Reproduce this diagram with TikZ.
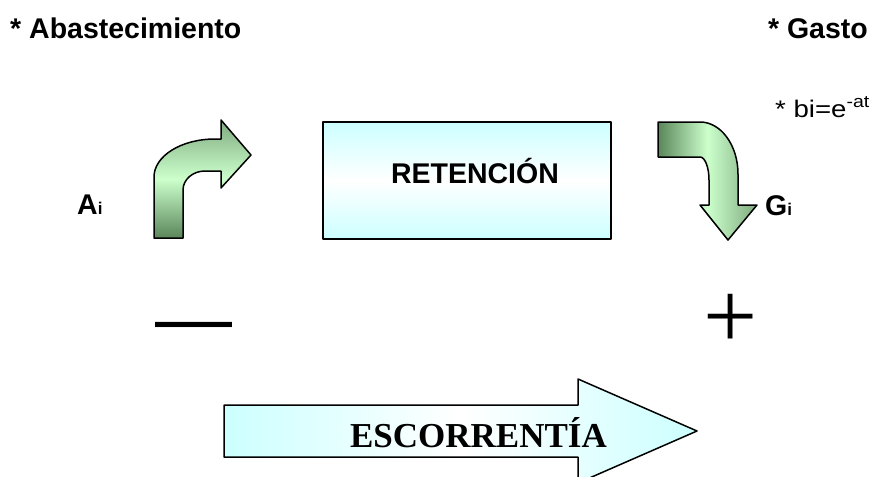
\documentclass[tikz,border=0pt]{standalone}
\usepackage{fontspec}
\setmainfont{Liberation Sans}
\newfontfamily\serifrm{Liberation Serif}
\newfontfamily\widesans[FakeStretch=1.15]{Liberation Sans}
\definecolor{lgreen}{HTML}{CCFFCC}
\definecolor{dgreen}{HTML}{5A865A}
\definecolor{mgreen}{HTML}{7FAA7F}
\definecolor{lcyan}{HTML}{CCFFFF}
\tikzset{
  lbl/.style={inner sep=0pt, font=\bfseries\fontsize{28.5}{34}\selectfont},
  shapeline/.style={draw=black, line width=1.5pt, line join=round},
  sign/.style={inner sep=0pt}
}
\begin{document}
\begin{tikzpicture}[x=1pt,y=-1pt]
\useasboundingbox (0,0) rectangle (871,477);
\clip (0,0) rectangle (871,477);
\fill[white] (0,0) rectangle (871,477);

% top labels
\node[lbl, anchor=base west] (abast) at (10,38) {* Abastecimiento};
\node[lbl, anchor=base east] (gasto) at (868,38) {* Gasto};
\node[inner sep=0pt, anchor=base west, font=\widesans\fontsize{24}{28}\selectfont] (bi) at (775,117)
  {* bi=e\raisebox{10pt}{\fontsize{17}{20}\selectfont -at}};

% left bent arrow (Ai)
\path[shapeline, top color=mgreen, bottom color=dgreen, middle color=lgreen]
  (154,238) -- (154,177)
  .. controls (154,156) and (181.3,139) .. (215,139)
  -- (221,139) -- (221,120) -- (251,155) -- (221,188) -- (221,171) -- (205,171)
  .. controls (192.8,171) and (183,179.5) .. (183,190)
  -- (183,238) -- cycle;

% right bent arrow (Gi)
\path[shapeline, left color=dgreen, right color=mgreen, middle color=lgreen]
  (658,122) -- (700,122)
  .. controls (721,122) and (738,145.3) .. (738,174)
  -- (738,205) -- (757,205) -- (728,240) -- (700,205) -- (709,205) -- (709,180)
  .. controls (709,167.3) and (705,157) .. (700,157)
  -- (658,157) -- cycle;

% retention box
\node[shapeline, line width=2pt, minimum width=288pt, minimum height=117pt,
      inner sep=0pt, top color=lcyan, bottom color=lcyan, middle color=white]
      (ret) at (467,180.5) {};
\node[lbl, anchor=base] (retlbl) at (475,183) {RETENCIÓN};

% Ai, Gi
\node[lbl, anchor=base west] (ai) at (77,214) {A{\fontsize{17}{20}\selectfont i}};
\node[lbl, anchor=base west] (gi) at (765,215) {G{\fontsize{17}{20}\selectfont i}};

% signs
\node[sign, font=\fontsize{77}{80}\selectfont] (minus) at (193.5,333) {—};
\node[sign, font=\serifrm\fontsize{96}{100}\selectfont] (plus) at (730.5,321) {+};

% escorrentia arrow
\path[shapeline, left color=lcyan, right color=lcyan, middle color=white]
  (224,405) -- (578,405) -- (578,379) -- (697,431) -- (578,483) -- (578,457)
  -- (224,457) -- cycle;
\node[inner sep=0pt, anchor=base, font=\serifrm\bfseries\fontsize{35}{40}\selectfont]
  (esc) at (478.5,447) {ESCORRENTÍA};
\end{tikzpicture}
\end{document}
